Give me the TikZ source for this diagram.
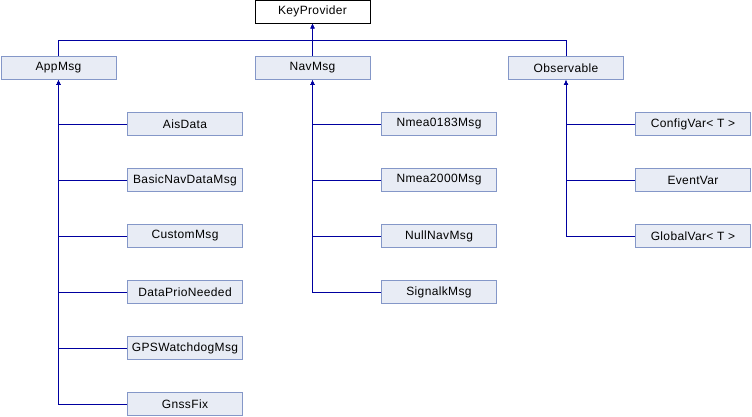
\documentclass[tikz,border=0pt]{standalone}
\usepackage{fontspec}
\setmainfont{Liberation Sans}[LetterSpace=3]
\usetikzlibrary{arrows.meta}
\definecolor{edgeblue}{RGB}{0,0,160}
\definecolor{boxborder}{RGB}{132,151,200}
\definecolor{boxfill}{RGB}{232,236,245}
\tikzset{
  cls/.style={draw=boxborder, fill=boxfill, line width=0.9pt, minimum width=115pt, minimum height=23pt, inner sep=0pt, font=\fontsize{12}{14}\selectfont},
  rootcls/.style={cls, draw=black, fill=white},
  edge/.style={draw=edgeblue, line width=0.9pt, -{Latex[length=5pt,width=4.5pt]}},
}
\begin{document}
\begin{tikzpicture}[x=1pt,y=-1pt]
\useasboundingbox (0,0) rectangle (752,416);
\node[rootcls] (kp) at (312.5,11.5) {KeyProvider};
\node[cls] (app) at (58.5,68) {AppMsg};
\node[cls] (nav) at (312.5,68) {NavMsg};
\node[cls] (obs) at (566,68) {Observable};
\coordinate (bus) at (312.5,40);
\draw[edge] (app.north) |- (bus) -- (kp.south);
\draw[edge] (obs.north) |- (bus) -- (kp.south);
\draw[edge] (nav.north) -- (kp.south);
% AppMsg children
\node[cls] (ais) at (185,124) {AisData};
\node[cls] (basic) at (185,180) {BasicNavDataMsg};
\node[cls] (custom) at (185,236) {CustomMsg};
\node[cls] (prio) at (185,292) {DataPrioNeeded};
\node[cls] (gps) at (185,348) {GPSWatchdogMsg};
\node[cls] (gnss) at (185,404) {GnssFix};
\foreach \n in {ais,basic,custom,prio,gps,gnss} \draw[edge] (\n.west) -| (app.south);
% NavMsg children
\node[cls] (n0183) at (439,124) {Nmea0183Msg};
\node[cls] (n2000) at (439,180) {Nmea2000Msg};
\node[cls] (null) at (439,236) {NullNavMsg};
\node[cls] (sigk) at (439,292) {SignalkMsg};
\foreach \n in {n0183,n2000,null,sigk} \draw[edge] (\n.west) -| (nav.south);
% Observable children
\node[cls] (cfg) at (693,124) {ConfigVar< T >};
\node[cls] (evt) at (693,180) {EventVar};
\node[cls] (glob) at (693,236) {GlobalVar< T >};
\foreach \n in {cfg,evt,glob} \draw[edge] (\n.west) -| (obs.south);
\end{tikzpicture}
\end{document}
